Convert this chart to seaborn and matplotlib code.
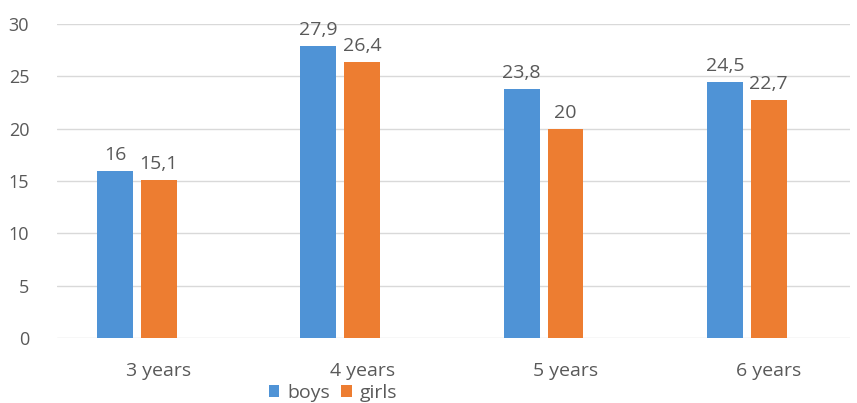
import matplotlib
matplotlib.use("Agg")
import matplotlib.pyplot as plt
import matplotlib.transforms as mtransforms
from matplotlib.patches import Patch
import seaborn as sns
import pandas as pd

categories = ["3 years", "4 years", "5 years", "6 years"]
boys = [16, 27.9, 23.8, 24.5]
girls = [15.1, 26.4, 20, 22.7]
series_names = ["boys", "girls"]
colors = ["#4F93D6", "#ED7D31"]

df = pd.DataFrame({
    "age": categories * 2,
    "value": boys + girls,
    "sex": [series_names[0]] * len(categories) + [series_names[1]] * len(categories),
})

sns.set_theme(style="white")
plt.rcParams['font.family'] = ['Open Sans', 'DejaVu Sans']

fig = plt.figure(figsize=(8.57, 4.03), dpi=100)
ax = fig.add_axes([57/857, 65/403, 793/857, 314/403])

sns.barplot(data=df, x="age", y="value", hue="sex", palette=colors,
            width=0.43, gap=0.18, ax=ax, legend=False, saturation=1,
            linewidth=0, edgecolor="none")

text_color = "#595959"
for cont in ax.containers:
    labels = [f"{v:g}".replace(".", ",") for v in cont.datavalues]
    ax.bar_label(cont, labels=labels, padding=5, fontsize=14, color=text_color)

ax.set_ylim(0, 30)
ax.set_yticks([0, 5, 10, 15, 20, 25, 30])
ax.set_xlim(-0.393, 3.507)
ax.set_xlabel("")
ax.set_ylabel("")
ax.grid(axis="y", color="#D9D9D9", linewidth=1)
ax.set_axisbelow(True)
for s in ax.spines.values():
    s.set_visible(False)
ax.tick_params(axis="y", length=0, pad=20, labelsize=13, labelcolor=text_color)
ax.tick_params(axis="x", length=0, pad=17, labelsize=14, labelcolor=text_color)

shift = mtransforms.ScaledTranslation(22/100, 0, fig.dpi_scale_trans)
for lbl in ax.get_xticklabels():
    lbl.set_transform(lbl.get_transform() + shift)

handles = [Patch(facecolor=c, edgecolor="none") for c in colors]
fig.legend(handles, series_names, loc="center", bbox_to_anchor=(333/857, 1 - 393/403),
           ncol=2, frameon=False, handlelength=0.55, handleheight=0.55,
           handletextpad=0.4, columnspacing=0.6, fontsize=14, labelcolor=text_color,
           borderpad=0, borderaxespad=0)

fig.savefig("out.png", dpi=100)
